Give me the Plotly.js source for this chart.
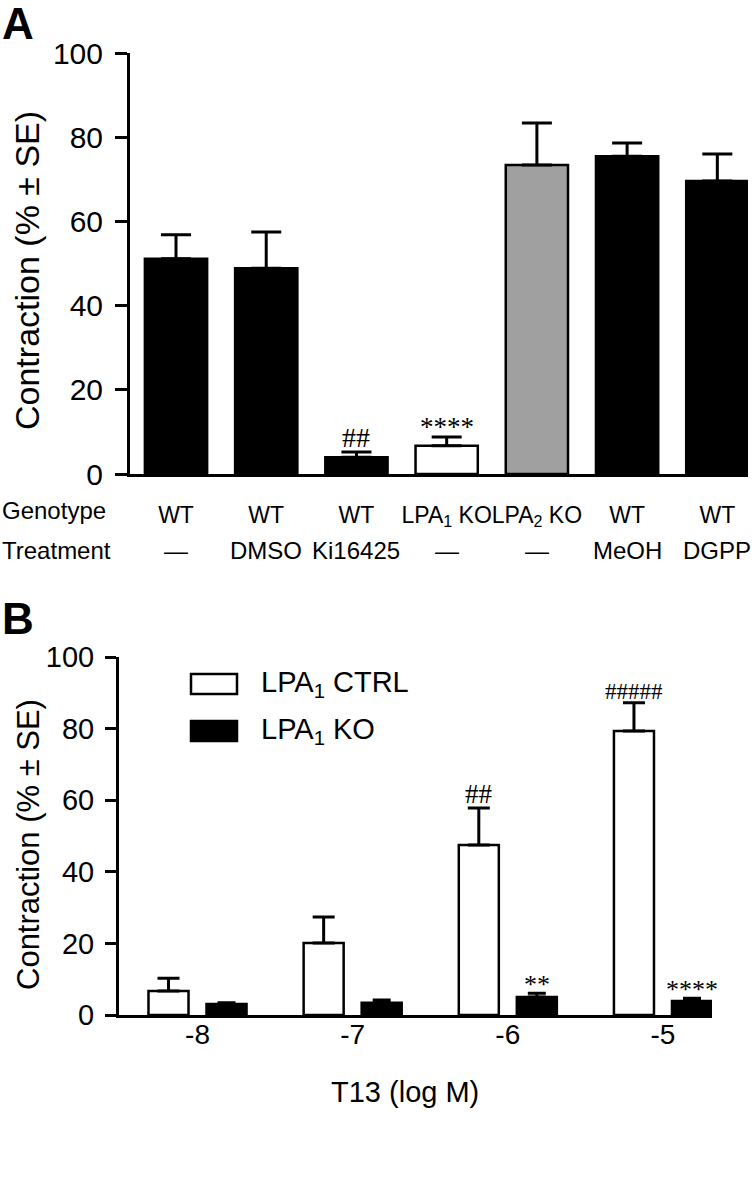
<!DOCTYPE html>
<html>
<head>
<meta charset="utf-8">
<script src="https://cdn.plot.ly/plotly-3.0.1.min.js"></script>
<style>html,body{margin:0;padding:0;background:#fff;}#chart{width:755px;height:1181px;}</style>
</head>
<body>
<div id="chart"></div>
<script>
// ---------- Panel A data ----------
const genotypeA = ['WT', 'WT', 'WT', 'LPA<sub>1</sub> KO', 'LPA<sub>2</sub> KO', 'WT', 'WT'];
const treatmentA = ['—', 'DMSO', 'Ki16425', '—', '—', 'MeOH', 'DGPP'];
const contractionA = [51.1, 48.9, 4.0, 6.7, 73.4, 75.5, 69.6];
const seA = [5.7, 8.6, 1.2, 2.1, 10.0, 3.1, 6.4];
const sigA = ['', '', '##', '****', '', '', ''];

// ---------- Panel B data ----------
const logDoseB = [-8, -7, -6, -5];
const ctrlMeanB = [6.7, 20.1, 47.5, 79.3];
const ctrlSEB = [3.6, 7.3, 10.3, 7.9];
const koMeanB = [3.1, 3.4, 5.0, 3.9];
const koSEB = [0.3, 0.8, 1.1, 0.8];
const ctrlSigB = ['', '', '##', '#####'];
const koSigB = ['', '', '**', '****'];
const seriesNamesB = ['LPA<sub>1</sub> CTRL', 'LPA<sub>1</sub> KO'];
const yTicks = [0, 20, 40, 60, 80, 100];

// ---------- styles ----------
const W = 755, H = 1181;
const FONT = 'Liberation Sans, Arial, Helvetica, sans-serif';
const SERIF = 'Liberation Serif, Times New Roman, serif';
const colorsA = ['#000000', '#000000', '#000000', '#ffffff', '#a0a0a0', '#000000', '#000000'];
const px = v => v / W;
const py = v => 1 - v / H;
const idxA = contractionA.map((_, i) => i);

const traces = [
  {
    type: 'bar', x: idxA, y: contractionA, width: 0.69,
    marker: {color: colorsA, line: {color: '#000', width: 2.5}},
    error_y: {type: 'data', symmetric: false, array: seA, arrayminus: seA.map(() => 0),
              color: '#000', thickness: 3, width: 15},
    xaxis: 'x', yaxis: 'y', hoverinfo: 'none'
  },
  {
    type: 'bar', name: seriesNamesB[0], x: logDoseB, y: ctrlMeanB, width: 0.258, offset: -0.316,
    marker: {color: '#ffffff', line: {color: '#000', width: 2.5}},
    error_y: {type: 'data', symmetric: false, array: ctrlSEB, arrayminus: ctrlSEB.map(() => 0),
              color: '#000', thickness: 3, width: 11},
    xaxis: 'x2', yaxis: 'y2', hoverinfo: 'none'
  },
  {
    type: 'bar', name: seriesNamesB[1], x: logDoseB, y: koMeanB, width: 0.258, offset: 0.058,
    marker: {color: '#000000', line: {color: '#000', width: 2.5}},
    error_y: {type: 'data', symmetric: false, array: koSEB, arrayminus: koSEB.map(() => 0),
              color: '#000', thickness: 3, width: 9},
    xaxis: 'x2', yaxis: 'y2', hoverinfo: 'none'
  }
];

const annotations = [];
const ann = (o) => annotations.push(Object.assign({showarrow: false, xref: 'paper', yref: 'paper'}, o));
// panel letters
ann({text: '<b>A</b>', x: px(0), y: py(23), xanchor: 'left', yanchor: 'middle', font: {family: FONT, size: 44, color: '#000'}});
ann({text: '<b>B</b>', x: px(0), y: py(618), xanchor: 'left', yanchor: 'middle', font: {family: FONT, size: 44, color: '#000'}});
// y titles
ann({text: 'Contraction (% ± SE)', textangle: -90, x: px(27), y: py(271), xanchor: 'center', yanchor: 'middle', font: {family: FONT, size: 34, color: '#000'}});
ann({text: 'Contraction (% ± SE)', textangle: -90, x: px(28), y: py(845), xanchor: 'center', yanchor: 'middle', font: {family: FONT, size: 31, color: '#000'}});
// x title B
ann({text: 'T13 (log M)', x: px(405), y: py(1092), xanchor: 'center', yanchor: 'middle', font: {family: FONT, size: 29, color: '#000'}});
// row labels A
ann({text: 'Genotype', x: px(0), y: py(510), xanchor: 'left', yanchor: 'middle', font: {family: FONT, size: 24, color: '#000'}});
ann({text: 'Treatment', x: px(0), y: py(550), xanchor: 'left', yanchor: 'middle', font: {family: FONT, size: 24, color: '#000'}});
treatmentA.forEach((t, i) => {
  ann({text: t, x: i, xref: 'x', y: py(550), xanchor: 'center', yanchor: 'middle', font: {family: FONT, size: 24, color: '#000'}});
});
// significance marks A
sigA.forEach((s, i) => {
  if (!s) return;
  const star = s.indexOf('*') >= 0;
  ann({text: s, x: i, y: contractionA[i] + seA[i], xref: 'x', yref: 'y', xanchor: 'center', yanchor: 'bottom',
       yshift: star ? -7 : -3, font: {family: SERIF, size: star ? 27 : 28, color: '#000'}});
});
// significance marks B
ctrlSigB.forEach((s, i) => {
  if (!s) return;
  ann({text: s, x: logDoseB[i] - 0.187, y: ctrlMeanB[i] + ctrlSEB[i], xref: 'x2', yref: 'y2', xanchor: 'center', yanchor: 'bottom',
       yshift: -3, font: {family: SERIF, size: s.length > 3 ? 23 : 27, color: '#000'}});
});
koSigB.forEach((s, i) => {
  if (!s) return;
  ann({text: s, x: logDoseB[i] + 0.187, y: koMeanB[i] + koSEB[i], xref: 'x2', yref: 'y2', xanchor: 'center', yanchor: 'bottom',
       yshift: -8, font: {family: SERIF, size: 26, color: '#000'}});
});
// legend B (drawn manually)
ann({text: seriesNamesB[0], x: px(259), y: py(684), xanchor: 'left', yanchor: 'middle', font: {family: FONT, size: 29, color: '#000'}});
ann({text: seriesNamesB[1], x: px(259), y: py(731), xanchor: 'left', yanchor: 'middle', font: {family: FONT, size: 29, color: '#000'}});

const shapes = [
  {type: 'rect', xref: 'paper', yref: 'paper', x0: px(191), x1: px(237), y0: py(674), y1: py(694), fillcolor: '#fff', line: {color: '#000', width: 2.5}},
  {type: 'rect', xref: 'paper', yref: 'paper', x0: px(191), x1: px(237), y0: py(721), y1: py(741), fillcolor: '#000', line: {color: '#000', width: 2.5}}
];

const axisCommon = {showgrid: false, zeroline: false, showline: true, linecolor: '#000', linewidth: 3, tickcolor: '#000', fixedrange: true, automargin: false};

const layout = {
  width: W, height: H,
  margin: {l: 0, r: 0, t: 0, b: 0, pad: 0},
  paper_bgcolor: '#fff', plot_bgcolor: '#fff',
  showlegend: false,
  font: {family: FONT, color: '#000'},
  xaxis: Object.assign({}, axisCommon, {
    domain: [px(130), px(748)], range: [-0.51, 6.34], anchor: 'y',
    tickmode: 'array', tickvals: idxA, ticktext: genotypeA, ticks: '', ticklen: 0, tickangle: 0,
    tickfont: {family: FONT, size: 23, color: '#000'}, ticklabelstandoff: 18
  }),
  yaxis: Object.assign({}, axisCommon, {
    domain: [py(474), py(53)], range: [0, 100], anchor: 'x',
    tickmode: 'array', tickvals: yTicks, ticks: 'outside', ticklen: 12, tickwidth: 3,
    tickfont: {family: FONT, size: 30, color: '#000'}, ticklabelstandoff: 6
  }),
  xaxis2: Object.assign({}, axisCommon, {
    domain: [px(119), px(712)], range: [-8.506, -4.684], anchor: 'y2',
    tickmode: 'array', tickvals: logDoseB, ticktext: logDoseB.map(v => String(v)), ticks: '', ticklen: 0, tickangle: 0,
    tickfont: {family: FONT, size: 28, color: '#000'}, ticklabelstandoff: -8
  }),
  yaxis2: Object.assign({}, axisCommon, {
    domain: [py(1015), py(657)], range: [0, 100], anchor: 'x2',
    tickmode: 'array', tickvals: yTicks, ticks: 'outside', ticklen: 11, tickwidth: 3,
    tickfont: {family: FONT, size: 29, color: '#000'}, ticklabelstandoff: 5
  }),
  annotations: annotations,
  shapes: shapes
};

Plotly.newPlot('chart', traces, layout, {staticPlot: true, displayModeBar: false});
</script>
</body>
</html>
